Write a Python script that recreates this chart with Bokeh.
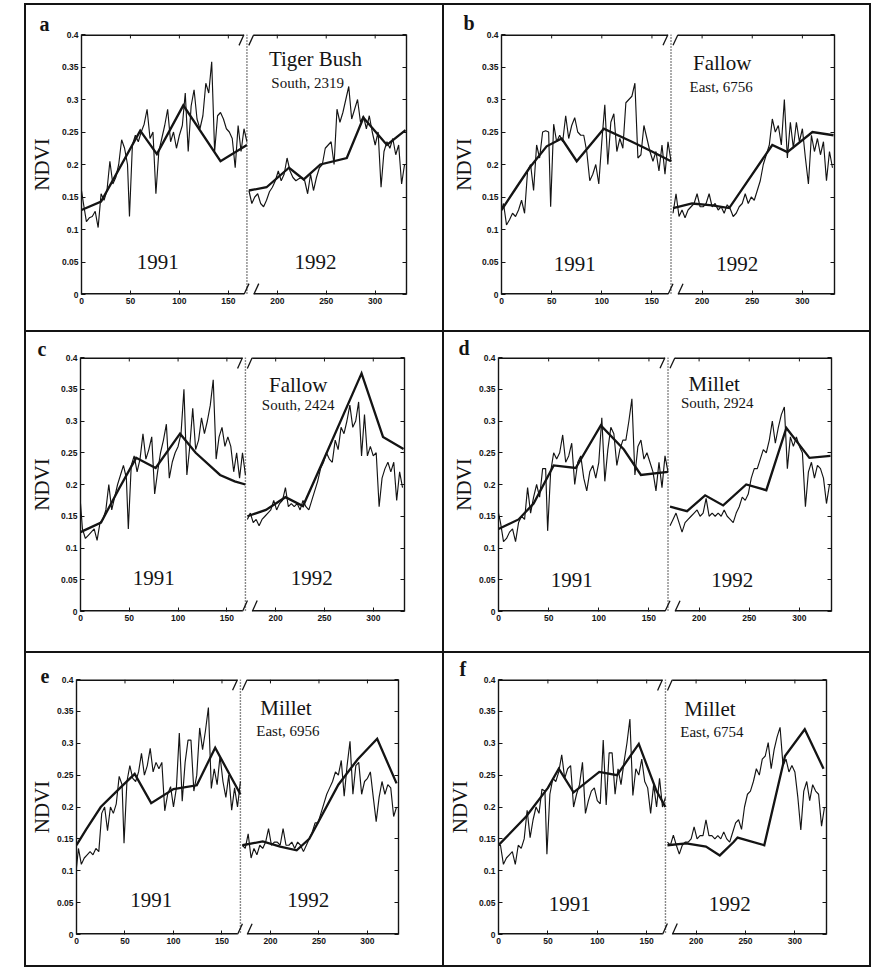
from bokeh.plotting import figure
from bokeh.models import (LinearAxis, Range1d, Label, Span, FixedTicker,
                          CustomJSTickFormatter, Spacer)
from bokeh.layouts import row, column
from bokeh.embed import file_html
from bokeh.resources import INLINE

# ---------------- data ----------------
DAYS91 = [0, 2, 5, 8, 11, 14, 17, 20, 23, 26, 29, 32, 35, 38, 41, 44, 47, 49, 52, 55,
          58, 61, 64, 67, 70, 73, 76, 79, 82, 85, 88, 91, 94, 97, 100, 103, 106, 109, 112, 115,
          118, 121, 124, 127, 130, 133, 136, 139, 142, 145, 148, 151, 154, 157, 160, 163, 166, 169]
DAYS92 = [171, 174, 177, 180, 183, 186, 189, 192, 195, 198, 201, 204, 207, 210, 213, 216, 219, 222,
          225, 228, 231, 234, 237, 240, 243, 246, 249, 252, 255, 258, 261, 264, 267, 270, 273, 276,
          279, 282, 285, 288, 291, 294, 297, 300, 303, 306, 309, 312, 315, 318, 321, 324, 327, 330]

# panel a : Tiger Bush, South 2319
A_N91 = [0.160, 0.140, 0.112, 0.118, 0.120, 0.128, 0.103, 0.155, 0.145, 0.160,
         0.205, 0.170, 0.180, 0.200, 0.238, 0.225, 0.200, 0.120, 0.230, 0.245,
         0.235, 0.250, 0.262, 0.285, 0.240, 0.250, 0.155, 0.220, 0.240, 0.260,
         0.285, 0.235, 0.250, 0.225, 0.245, 0.260, 0.310, 0.220, 0.290, 0.315,
         0.270, 0.255, 0.275, 0.325, 0.310, 0.358, 0.220, 0.275, 0.280, 0.270,
         0.255, 0.250, 0.240, 0.195, 0.260, 0.220, 0.255, 0.235]
A_N92 = [0.160, 0.140, 0.150, 0.155, 0.140, 0.135, 0.145, 0.158, 0.165, 0.175,
         0.190, 0.175, 0.185, 0.210, 0.190, 0.180, 0.175, 0.178, 0.180, 0.175,
         0.155, 0.185, 0.160, 0.180, 0.195, 0.200, 0.225, 0.230, 0.235, 0.200,
         0.285, 0.265, 0.280, 0.300, 0.320, 0.270, 0.285, 0.300, 0.265, 0.275,
         0.255, 0.275, 0.250, 0.230, 0.250, 0.165, 0.220, 0.235, 0.225, 0.240,
         0.215, 0.230, 0.170, 0.200]
A_K91_X = [0, 20, 60, 77, 104, 142, 169]
A_K91_Y = [0.130, 0.143, 0.252, 0.216, 0.291, 0.205, 0.230]
A_K92_X = [171, 189, 212, 227, 244, 271, 288, 312, 331]
A_K92_Y = [0.160, 0.165, 0.195, 0.177, 0.200, 0.210, 0.272, 0.230, 0.253]

# panel b : Fallow, East 6756
B_N91 = [0.130, 0.140, 0.107, 0.115, 0.125, 0.120, 0.130, 0.145, 0.125, 0.190,
         0.200, 0.160, 0.230, 0.210, 0.250, 0.252, 0.250, 0.135, 0.262, 0.235,
         0.245, 0.235, 0.275, 0.240, 0.260, 0.272, 0.250, 0.245, 0.245, 0.220,
         0.175, 0.185, 0.200, 0.170, 0.235, 0.292, 0.200, 0.265, 0.278, 0.220,
         0.240, 0.225, 0.295, 0.300, 0.305, 0.325, 0.210, 0.215, 0.260, 0.240,
         0.220, 0.205, 0.220, 0.190, 0.230, 0.185, 0.235, 0.205]
B_N92 = [0.125, 0.155, 0.120, 0.130, 0.118, 0.130, 0.135, 0.140, 0.155, 0.135,
         0.135, 0.140, 0.155, 0.135, 0.140, 0.130, 0.135, 0.125, 0.138, 0.132,
         0.120, 0.125, 0.135, 0.140, 0.155, 0.140, 0.150, 0.145, 0.160, 0.175,
         0.200, 0.215, 0.230, 0.270, 0.250, 0.260, 0.230, 0.300, 0.210, 0.265,
         0.225, 0.265, 0.235, 0.255, 0.210, 0.170, 0.245, 0.220, 0.240, 0.215,
         0.235, 0.175, 0.220, 0.195]
B_K91_X = [0, 15, 28, 45, 60, 75, 102, 130, 150, 169]
B_K91_Y = [0.130, 0.165, 0.195, 0.228, 0.240, 0.205, 0.255, 0.235, 0.220, 0.205]
B_K92_X = [171, 190, 210, 227, 270, 285, 310, 331]
B_K92_Y = [0.133, 0.140, 0.137, 0.133, 0.230, 0.219, 0.250, 0.245]

# panel c : Fallow, South 2424
C_N91 = [0.170, 0.130, 0.115, 0.120, 0.125, 0.130, 0.112, 0.140, 0.145, 0.160,
         0.200, 0.160, 0.180, 0.200, 0.215, 0.230, 0.210, 0.130, 0.230, 0.245,
         0.220, 0.240, 0.280, 0.240, 0.255, 0.275, 0.185, 0.220, 0.250, 0.270,
         0.295, 0.210, 0.235, 0.250, 0.260, 0.280, 0.350, 0.215, 0.260, 0.320,
         0.255, 0.270, 0.305, 0.280, 0.300, 0.325, 0.365, 0.240, 0.275, 0.290,
         0.260, 0.275, 0.260, 0.220, 0.250, 0.210, 0.250, 0.215]
C_N92 = [0.145, 0.155, 0.140, 0.145, 0.135, 0.145, 0.150, 0.155, 0.160, 0.175,
         0.160, 0.170, 0.175, 0.195, 0.165, 0.170, 0.165, 0.170, 0.160, 0.175,
         0.165, 0.160, 0.175, 0.190, 0.205, 0.225, 0.235, 0.250, 0.240, 0.235,
         0.270, 0.255, 0.290, 0.280, 0.300, 0.325, 0.290, 0.300, 0.330, 0.245,
         0.310, 0.245, 0.260, 0.245, 0.250, 0.165, 0.210, 0.225, 0.235, 0.220,
         0.235, 0.175, 0.220, 0.195]
C_K91_X = [0, 21, 40, 57, 77, 102, 118, 143, 158, 169]
C_K91_Y = [0.125, 0.140, 0.195, 0.242, 0.226, 0.280, 0.250, 0.215, 0.205, 0.200]
C_K92_X = [171, 190, 210, 228, 248, 288, 310, 331]
C_K92_Y = [0.150, 0.160, 0.180, 0.166, 0.235, 0.375, 0.275, 0.256]

# panel d : Millet, South 2924
D_N91 = [0.155, 0.140, 0.110, 0.115, 0.125, 0.130, 0.110, 0.140, 0.150, 0.145,
         0.195, 0.155, 0.180, 0.200, 0.180, 0.225, 0.225, 0.127, 0.220, 0.250,
         0.240, 0.250, 0.278, 0.235, 0.245, 0.265, 0.200, 0.235, 0.245, 0.210,
         0.190, 0.220, 0.230, 0.210, 0.235, 0.305, 0.205, 0.255, 0.290, 0.280,
         0.230, 0.255, 0.270, 0.270, 0.300, 0.335, 0.215, 0.260, 0.270, 0.240,
         0.250, 0.235, 0.220, 0.190, 0.235, 0.195, 0.245, 0.220]
D_N92 = [0.135, 0.145, 0.155, 0.140, 0.125, 0.140, 0.145, 0.150, 0.155, 0.160,
         0.150, 0.155, 0.178, 0.150, 0.155, 0.150, 0.155, 0.150, 0.160, 0.150,
         0.145, 0.140, 0.155, 0.165, 0.180, 0.175, 0.185, 0.210, 0.225, 0.225,
         0.240, 0.255, 0.250, 0.270, 0.300, 0.265, 0.290, 0.310, 0.322, 0.225,
         0.275, 0.260, 0.275, 0.260, 0.250, 0.165, 0.220, 0.235, 0.210, 0.230,
         0.225, 0.210, 0.170, 0.200]
D_K91_X = [0, 20, 35, 55, 77, 102, 125, 142, 169]
D_K91_Y = [0.130, 0.145, 0.170, 0.230, 0.226, 0.293, 0.255, 0.215, 0.220]
D_K92_X = [171, 188, 206, 224, 247, 267, 287, 310, 331]
D_K92_Y = [0.165, 0.158, 0.183, 0.167, 0.200, 0.191, 0.289, 0.242, 0.245]

# panel e : Millet, East 6956
E_N91 = [0.105, 0.135, 0.110, 0.120, 0.125, 0.130, 0.125, 0.135, 0.130, 0.190,
         0.200, 0.163, 0.200, 0.190, 0.205, 0.248, 0.235, 0.143, 0.240, 0.265,
         0.245, 0.240, 0.255, 0.284, 0.250, 0.265, 0.292, 0.255, 0.270, 0.260,
         0.270, 0.194, 0.220, 0.232, 0.200, 0.230, 0.316, 0.209, 0.270, 0.305,
         0.305, 0.225, 0.250, 0.324, 0.290, 0.320, 0.356, 0.229, 0.260, 0.235,
         0.280, 0.240, 0.215, 0.250, 0.195, 0.230, 0.200, 0.240]
E_N92 = [0.140, 0.135, 0.158, 0.120, 0.135, 0.125, 0.140, 0.135, 0.145, 0.166,
         0.140, 0.145, 0.145, 0.140, 0.166, 0.140, 0.140, 0.145, 0.135, 0.145,
         0.140, 0.130, 0.140, 0.150, 0.160, 0.175, 0.175, 0.190, 0.205, 0.220,
         0.230, 0.240, 0.255, 0.250, 0.273, 0.217, 0.265, 0.303, 0.220, 0.265,
         0.270, 0.220, 0.240, 0.245, 0.255, 0.215, 0.177, 0.215, 0.240, 0.220,
         0.235, 0.230, 0.185, 0.200]
E_K91_X = [0, 10, 25, 45, 60, 77, 100, 124, 143, 160, 169]
E_K91_Y = [0.140, 0.165, 0.200, 0.230, 0.252, 0.206, 0.228, 0.234, 0.293, 0.245, 0.220]
E_K92_X = [171, 192, 210, 227, 240, 270, 290, 310, 330]
E_K92_Y = [0.140, 0.146, 0.138, 0.132, 0.150, 0.235, 0.275, 0.307, 0.237]

# panel f : Millet, East 6754
F_N91 = [0.140, 0.140, 0.110, 0.120, 0.125, 0.130, 0.110, 0.140, 0.135, 0.150,
         0.195, 0.152, 0.180, 0.200, 0.190, 0.228, 0.225, 0.126, 0.220, 0.245,
         0.240, 0.255, 0.282, 0.245, 0.260, 0.265, 0.200, 0.220, 0.235, 0.270,
         0.190, 0.210, 0.225, 0.230, 0.210, 0.205, 0.305, 0.203, 0.285, 0.285,
         0.220, 0.260, 0.235, 0.270, 0.300, 0.338, 0.218, 0.260, 0.250, 0.275,
         0.240, 0.230, 0.190, 0.235, 0.200, 0.245, 0.200, 0.215]
F_N92 = [0.145, 0.140, 0.156, 0.140, 0.126, 0.140, 0.145, 0.145, 0.150, 0.169,
         0.150, 0.155, 0.155, 0.180, 0.155, 0.155, 0.150, 0.155, 0.150, 0.161,
         0.150, 0.145, 0.160, 0.175, 0.180, 0.165, 0.200, 0.220, 0.225, 0.240,
         0.260, 0.250, 0.275, 0.280, 0.301, 0.260, 0.290, 0.310, 0.325, 0.265,
         0.275, 0.255, 0.265, 0.255, 0.215, 0.164, 0.225, 0.240, 0.210, 0.235,
         0.225, 0.220, 0.170, 0.200]
F_K91_X = [0, 28, 50, 61, 76, 102, 120, 142, 160, 169]
F_K91_Y = [0.140, 0.185, 0.230, 0.260, 0.223, 0.255, 0.250, 0.299, 0.225, 0.200]
F_K92_X = [171, 190, 210, 224, 238, 242, 269, 290, 310, 329]
F_K92_Y = [0.140, 0.143, 0.138, 0.124, 0.145, 0.152, 0.140, 0.280, 0.322, 0.260]

X_TICKS = [0, 50, 100, 150, 200, 250, 300]
Y_TICKS = [0, 0.05, 0.1, 0.15, 0.2, 0.25, 0.3, 0.35, 0.4]
YEARS = ["1991", "1992"]
LETTERS = ["a", "b", "c", "d", "e", "f"]
COVERS = ["Tiger Bush", "Fallow", "Fallow", "Millet", "Millet", "Millet"]
SITES = ["South, 2319", "East, 6756", "South, 2424", "South, 2924", "East, 6956", "East, 6754"]
Y_LABEL = "NDVI"

X_MAX = 332
Y_MAX = 0.4
DIVIDE = 169
BREAK_L, BREAK_R = 166, 176

# ---------------- layout / style ----------------
INK = "#141414"
SERIF = "Liberation Serif"
SANS = "Liberation Sans"
PAGE_LEFT = 24
PAGE_TOP = 3
CELL_W = [418, 429]
CELL_H = [327, 321, 316]
# (min_border_left, frame_width, min_border_top, frame_height) per panel
GEOM = [(54, 326, 26, 263), (57, 333, 29, 264),
        (50, 328, 23, 256), (54, 333, 25, 260),
        (45, 327, 20, 261), (48, 334, 26, 257)]
NDVI_STANDOFF = [5, 3, 4, 0, 0, 4]
TITLE_XY = [(239, 0.363), (220, 0.356), (223, 0.356), (215, 0.359), (216, 0.355), (214, 0.354)]
SITE_XY = [(231, 0.326), (219, 0.319), (223, 0.325), (218, 0.328), (218, 0.319), (216, 0.318)]
YEAR_XY = [((78, 239), 0.050), ((73, 235), 0.047), ((75, 237), 0.052),
           ((73, 233), 0.050), ((77, 239), 0.054), ((72, 234), 0.048)]
LETTER_DX = [-42, -38, -43, -40, -36, -39]
LETTER_H = 25

SERIES = [(A_N91, A_N92, A_K91_X, A_K91_Y, A_K92_X, A_K92_Y),
          (B_N91, B_N92, B_K91_X, B_K91_Y, B_K92_X, B_K92_Y),
          (C_N91, C_N92, C_K91_X, C_K91_Y, C_K92_X, C_K92_Y),
          (D_N91, D_N92, D_K91_X, D_K91_Y, D_K92_X, D_K92_Y),
          (E_N91, E_N92, E_K91_X, E_K91_Y, E_K92_X, E_K92_Y),
          (F_N91, F_N92, F_K91_X, F_K91_Y, F_K92_X, F_K92_Y)]

Y_FMT = "return tick === 0 ? '0' : tick.toFixed(2).replace(/0$/, '');"
BLANK_FMT = "return '';"


def style_axis(ax, ticks, code=None):
    ax.ticker = FixedTicker(ticks=ticks)
    if code is not None:
        ax.formatter = CustomJSTickFormatter(code=code)
    ax.major_tick_in = 4
    ax.major_tick_out = 0
    ax.minor_tick_line_color = None
    ax.major_tick_line_color = INK
    ax.major_tick_line_width = 1
    ax.axis_line_color = INK
    ax.axis_line_width = 1.4
    ax.major_label_text_font = SANS
    ax.major_label_text_font_size = "8.5px"
    ax.major_label_text_font_style = "bold"
    ax.major_label_text_color = INK
    ax.major_label_standoff = 3


def panel(i):
    n91, n92, k91x, k91y, k92x, k92y = SERIES[i]
    left, fw, top, fh = GEOM[i]
    cw = CELL_W[i % 2]
    ch = CELL_H[i // 2]
    p = figure(width=cw, height=ch, x_range=Range1d(0, X_MAX), y_range=Range1d(0, Y_MAX),
               output_backend="svg", toolbar_location=None,
               min_border_left=left, min_border_right=cw - left - fw,
               min_border_top=top, min_border_bottom=ch - top - fh)
    p.xgrid.visible = False
    p.ygrid.visible = False
    p.outline_line_color = None
    p.background_fill_color = "white"
    p.border_fill_color = "white"

    # panel letter as the figure title
    p.title.text = LETTERS[i]
    p.title.align = "left"
    p.title.offset = LETTER_DX[i]
    p.title.standoff = top - 2 - LETTER_H
    p.title.text_font = SERIF
    p.title.text_font_size = "20px"
    p.title.text_font_style = "bold"
    p.title.text_color = INK

    style_axis(p.xaxis[0], X_TICKS)
    p.xaxis[0].axis_line_color = None
    style_axis(p.yaxis[0], Y_TICKS, Y_FMT)
    p.yaxis[0].axis_label = Y_LABEL
    p.yaxis[0].axis_label_text_font = SERIF
    p.yaxis[0].axis_label_text_font_size = "21px"
    p.yaxis[0].axis_label_text_font_style = "normal"
    p.yaxis[0].axis_label_text_color = INK
    p.yaxis[0].axis_label_standoff = NDVI_STANDOFF[i]

    right_ax = LinearAxis()
    style_axis(right_ax, Y_TICKS, BLANK_FMT)
    p.add_layout(right_ax, "right")

    # frame top / bottom with the axis break, top ticks, break slashes
    px_x = X_MAX / fw
    px_y = Y_MAX / fh
    for yy in (0, Y_MAX):
        p.segment(x0=[0, BREAK_R], y0=[yy, yy], x1=[BREAK_L, X_MAX], y1=[yy, yy],
                  line_color=INK, line_width=2.8)
    p.segment(x0=X_TICKS, y0=[Y_MAX] * len(X_TICKS), x1=X_TICKS,
              y1=[Y_MAX - 4 * px_y] * len(X_TICKS), line_color=INK, line_width=1)
    bxs = [BREAK_L, BREAK_R]
    p.segment(x0=[b - 5 * px_x for b in bxs], y0=[Y_MAX - 11 * px_y] * 2,
              x1=bxs, y1=[Y_MAX] * 2, line_color=INK, line_width=1.3)
    p.segment(x0=bxs, y0=[0, 0], x1=[b + 5 * px_x for b in bxs], y1=[11 * px_y] * 2,
              line_color=INK, line_width=1.3)

    p.add_layout(Span(location=DIVIDE, dimension="height", line_color=INK,
                      line_width=1.4, line_dash="1 2"))

    # data
    p.line(DAYS91, n91, line_color=INK, line_width=1.15)
    p.line(DAYS92, n92, line_color=INK, line_width=1.15)
    p.line(k91x, k91y, line_color=INK, line_width=2.3, line_join="miter")
    p.line(k92x, k92y, line_color=INK, line_width=2.3, line_join="miter")

    # texts
    (x91, x92), yy = YEAR_XY[i]
    for xx, txt in ((x91, YEARS[0]), (x92, YEARS[1])):
        p.add_layout(Label(x=xx, y=yy, text=txt, text_font=SERIF, text_font_size="21px",
                           text_align="center", text_baseline="middle", text_color=INK))
    tx, ty = TITLE_XY[i]
    p.add_layout(Label(x=tx, y=ty, text=COVERS[i], text_font=SERIF, text_font_size="21px",
                       text_align="center", text_baseline="middle", text_color=INK))
    sx, sy = SITE_XY[i]
    p.add_layout(Label(x=sx, y=sy, text=SITES[i], text_font=SERIF, text_font_size="15px",
                       text_align="center", text_baseline="middle", text_color=INK))

    border = "2px solid " + INK
    st = {"border-left": border, "border-top": border}
    if i % 2 == 1:
        st["border-right"] = border
    if i // 2 == 2:
        st["border-bottom"] = border
    p.styles = st
    return p


panels = [panel(i) for i in range(6)]
grid = column(Spacer(width=10, height=PAGE_TOP),
              row(panels[0], panels[1]), row(panels[2], panels[3]), row(panels[4], panels[5]))
page = row(Spacer(width=PAGE_LEFT, height=10), grid)

open("out.html", "w").write(file_html(page, INLINE))
